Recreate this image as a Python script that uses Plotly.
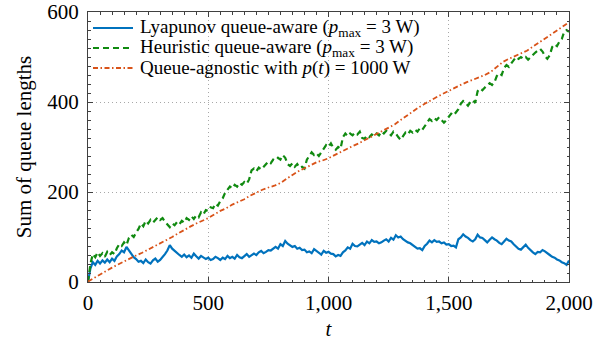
import plotly.graph_objects as go

# ---------------- data ----------------
t_fine = list(range(0, 2001, 10))      # time steps for the two queue-aware series
t_coarse = list(range(0, 2001, 25))    # time steps for the queue-agnostic series

lyapunov = [
    0, 30, 44, 38, 47, 41, 48, 43, 50, 44,
    52, 47, 57, 62, 70, 66, 78, 70, 62, 55,
    51, 45, 47, 42, 50, 44, 41, 48, 52, 45,
    49, 55, 62, 70, 82, 74, 69, 63, 60, 56,
    61, 55, 59, 54, 63, 57, 52, 58, 55, 51,
    54, 49, 51, 56, 53, 49, 54, 51, 58, 53,
    56, 52, 60, 55, 53, 58, 62, 56, 59, 63,
    60, 66, 69, 64, 67, 71, 70, 75, 78, 74,
    84, 80, 91, 85, 82, 78, 80, 74, 76, 71,
    72, 66, 68, 64, 73, 69, 64, 61, 69, 65,
    67, 63, 62, 57, 60, 58, 66, 70, 77, 74,
    85, 80, 79, 84, 87, 82, 90, 86, 93, 89,
    90, 86, 88, 92, 95, 90, 98, 94, 104, 99,
    101, 95, 91, 88, 86, 81, 78, 74, 75, 71,
    80, 85, 92, 88, 93, 89, 90, 86, 88, 83,
    84, 80, 81, 77, 95, 99, 106, 101, 98, 93,
    90, 95, 105, 99, 98, 93, 88, 94, 99, 95,
    92, 87, 84, 90, 96, 92, 90, 84, 78, 74,
    72, 78, 83, 76, 70, 66, 62, 67, 66, 71,
    68, 63, 60, 56, 54, 50, 48, 44, 42, 38,
    48,
]

heuristic = [
    0, 40, 62, 55, 66, 58, 64, 56, 67, 60,
    66, 62, 75, 84, 80, 88, 82, 98, 105, 100,
    110, 118, 130, 124, 136, 130, 138, 132, 138, 144,
    138, 142, 134, 128, 122, 130, 126, 133, 128, 136,
    132, 142, 138, 146, 140, 148, 144, 155, 150, 160,
    158, 166, 164, 174, 170, 180, 186, 198, 205, 212,
    208, 216, 212, 220, 216, 222, 218, 228, 248, 252,
    246, 254, 250, 256, 262, 268, 264, 272, 270, 276,
    272, 282, 276, 262, 258, 264, 256, 262, 254, 256,
    252, 272, 280, 288, 282, 286, 280, 288, 298, 304,
    300, 308, 298, 294, 300, 296, 322, 330, 324, 330,
    326, 332, 328, 334, 320, 318, 326, 322, 328, 324,
    330, 326, 334, 330, 336, 330, 326, 334, 330, 322,
    316, 324, 332, 328, 336, 332, 338, 334, 342, 338,
    346, 356, 362, 358, 364, 360, 366, 360, 354, 360,
    368, 374, 370, 378, 384, 396, 402, 398, 392, 400,
    404, 398, 424, 430, 426, 432, 436, 442, 438, 444,
    458, 464, 460, 476, 482, 478, 486, 494, 500, 496,
    500, 496, 500, 494, 500, 504, 510, 514, 518, 512,
    502, 496, 504, 522, 528, 524, 534, 540, 556, 560,
    556,
]

agnostic = [
    1, 9, 16, 24, 32, 39, 46, 53, 59, 65,
    72, 79, 86, 92, 100, 108, 116, 123, 130, 136,
    142, 150, 158, 164, 172, 178, 184, 192, 199, 205,
    210, 214, 220, 230, 238, 246, 253, 260, 266, 270,
    275, 282, 289, 295, 302, 308, 315, 322, 328, 335,
    342, 350, 360, 370, 380, 388, 396, 404, 411, 418,
    425, 432, 438, 444, 449, 454, 460, 467, 478, 489,
    496, 502, 508, 514, 523, 532, 540, 548, 558, 568,
    577,
]

x_tickvals = [0, 500, 1000, 1500, 2000]
x_ticktext = ["0", "500", "1,000", "1,500", "2,000"]
y_tickvals = [0, 200, 400, 600]
y_ticktext = ["0", "200", "400", "600"]

names = [
    "Lyapunov queue-aware (<i>p</i><sub>max</sub> = 3 W)",
    "Heuristic queue-aware (<i>p</i><sub>max</sub> = 3 W)",
    "Queue-agnostic with <i>p</i>(<i>t</i>) = 1000 W",
]

# ---------------- styling ----------------
FONT = "Liberation Serif"
AX = "#404040"
COLORS = ["#0072BD", "#108a10", "#D95319"]
WIDTHS = [2.2, 2.2, 1.8]
DASHES = ["solid", "6px,4px", "5px,2.5px,1.5px,2.5px"]

W, H = 616, 341
L, R, T, B = 88, 47, 12, 59
PW, PH = W - L - R, H - T - B

fig = go.Figure()
series = [(t_fine, lyapunov), (t_fine, heuristic), (t_coarse, agnostic)]
for (xs, ys), name, c, w, d in zip(series, names, COLORS, WIDTHS, DASHES):
    fig.add_trace(go.Scatter(x=xs, y=ys, mode="lines", name=name,
                             line=dict(color=c, width=w, dash=d),
                             showlegend=False))

# legend drawn in paper coordinates (rows 20 px apart, as in the reference)
for i, (name, c, d) in enumerate(zip(names, COLORS, DASHES)):
    yc = 1 - (16 + 20 * i) / PH
    fig.add_shape(type="line", xref="paper", yref="paper",
                  x0=5 / PW, x1=45 / PW, y0=yc, y1=yc,
                  line=dict(color=c, width=1.8, dash=d))
    fig.add_annotation(xref="paper", yref="paper", x=50 / PW, y=yc,
                       xanchor="left", yanchor="middle", showarrow=False,
                       text=name, font=dict(family=FONT, size=19, color="black"))

fig.update_layout(
    width=W, height=H,
    margin=dict(l=L, r=R, t=T, b=B, autoexpand=False),
    plot_bgcolor="white", paper_bgcolor="white",
    font=dict(family=FONT, size=21, color="black"),
    showlegend=False,
    hovermode=False,
)

axis_common = dict(
    showline=True, linecolor=AX, linewidth=1, mirror="ticks",
    ticks="inside", ticklen=5, tickcolor=AX, tickwidth=1,
    showgrid=True, gridcolor="#a8a8a8", griddash="1px,3px", gridwidth=1,
    zeroline=False, automargin=False, ticklabeloverflow="allow",
    tickfont=dict(family=FONT, size=21, color="black"),
)
fig.update_xaxes(
    range=[0, 2000], tickmode="array", tickvals=x_tickvals, ticktext=x_ticktext,
    minor=dict(tickmode="linear", tick0=0, dtick=50, ticks="inside", ticklen=2.5,
               tickcolor=AX, showgrid=False),
    title=dict(text="<i>t</i>", standoff=13, font=dict(family=FONT, size=21)),
    ticklabelstandoff=2,
    **axis_common,
)
fig.update_yaxes(
    range=[0, 600], tickmode="array", tickvals=y_tickvals, ticktext=y_ticktext,
    minor=dict(tickmode="linear", tick0=0, dtick=20, ticks="inside", ticklen=2.5,
               tickcolor=AX, showgrid=False),
    title=dict(text="Sum of queue lengths", standoff=9, font=dict(family=FONT, size=21)),
    ticklabelstandoff=4,
    **axis_common,
)

# remove the browser's default body margin so the figure sits at the page origin
fig.write_html("out.html",
               config={"displayModeBar": False},
               post_script="document.body.style.margin='0';")
